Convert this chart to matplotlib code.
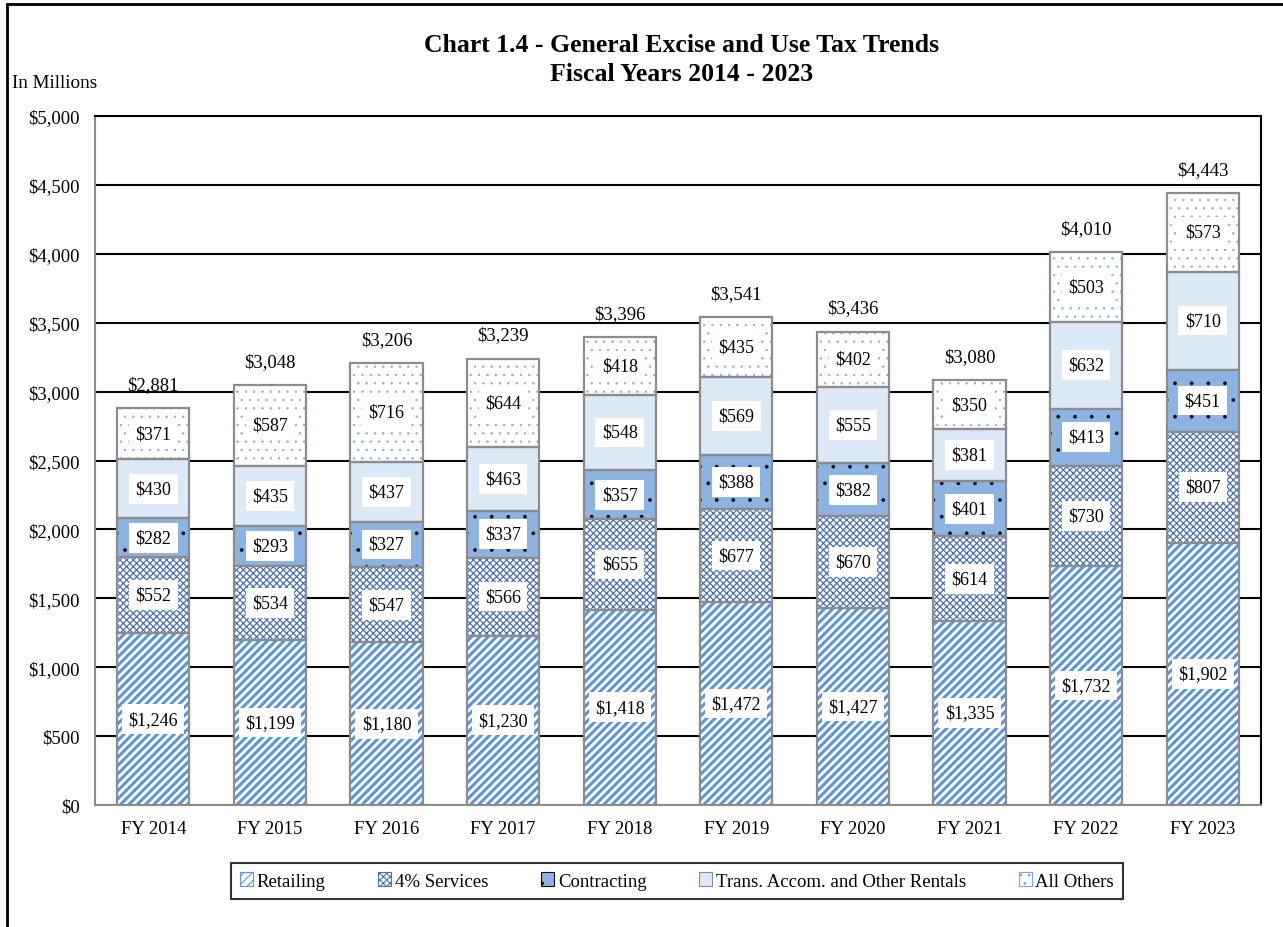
import matplotlib.pyplot as plt
import matplotlib.lines as mlines
import numpy as np

plt.rcParams['font.family'] = ['Liberation Serif', 'DejaVu Serif']

# Data (in millions)
years = ["FY 2014", "FY 2015", "FY 2016", "FY 2017", "FY 2018",
         "FY 2019", "FY 2020", "FY 2021", "FY 2022", "FY 2023"]
retailing = [1246, 1199, 1180, 1230, 1418, 1472, 1427, 1335, 1732, 1902]
services = [552, 534, 547, 566, 655, 677, 670, 614, 730, 807]
contracting = [282, 293, 327, 337, 357, 388, 382, 401, 413, 451]
rentals = [430, 435, 437, 463, 548, 569, 555, 381, 632, 710]
others = [371, 587, 716, 644, 418, 435, 402, 350, 503, 573]
totals = [2881, 3048, 3206, 3239, 3396, 3541, 3436, 3080, 4010, 4443]

# name, values, face, hatch, hatch colour, hatch linewidth
series = [
    ("Retailing", retailing, "white", "////", "#5B95DE", 2.2),
    ("4% Services", services, "white", "xxxxx", "#4A72B8", 0.9),
    ("Contracting", contracting, "#8DB3E2", ".", "#111111", 0.3),
    ("Trans. Accom. and Other Rentals", rentals, "#DCEAF8", None, None, 1.0),
    ("All Others", others, "white", "..", "#79A6E6", 0.4),
]

fig = plt.figure(figsize=(12.83, 9.28), dpi=100)
ax = fig.add_axes([95 / 1283, 1 - 806 / 928, (1261 - 95) / 1283, (806 - 117) / 928])

x = np.arange(len(years))
width = 0.62
bottom = np.zeros(len(years))
handles = []

for name, vals, face, hatch, hcol, hlw in series:
    vals = np.array(vals)
    plt.rcParams['hatch.linewidth'] = hlw
    if hatch:
        ax.bar(x, vals, width, bottom=bottom, color=face, hatch=hatch,
               edgecolor=hcol, linewidth=0, zorder=3)
    else:
        ax.bar(x, vals, width, bottom=bottom, color=face, linewidth=0, zorder=3)
    ax.bar(x, vals, width, bottom=bottom, fill=False, edgecolor="#8c8c8c",
           linewidth=1.6, zorder=4)
    for xi, b, v in zip(x, bottom, vals):
        ax.text(xi, b + v / 2, f"${v:,}", ha="center", va="center", fontsize=13,
                zorder=5, bbox=dict(boxstyle="square,pad=0.35", fc="white", ec="none"))
    handles.append(plt.Rectangle((0, 0), 1, 1, facecolor=face, hatch=hatch,
                                 edgecolor=hcol if hcol else "#8c8c8c", linewidth=0.8))
    bottom = bottom + vals

for xi, t in zip(x, totals):
    ax.annotate(f"${t:,}", (xi, t), xytext=(0, 17), textcoords="offset points",
                ha="center", va="center", fontsize=13.5)

ax.set_xlim(-0.5, len(years) - 0.5)
ax.set_ylim(0, 5000)
ax.set_yticks(np.arange(0, 5001, 500))
ax.set_yticklabels([f"${v:,}" for v in range(0, 5001, 500)], fontsize=13.5)
ax.set_xticks(x)
ax.set_xticklabels(years, fontsize=13.5)
ax.tick_params(length=0, pad=11)
ax.yaxis.grid(True, color="black", linewidth=1.5, zorder=0)
ax.set_axisbelow(True)
for s in ["top", "right"]:
    ax.spines[s].set_color("black")
    ax.spines[s].set_linewidth(1.5)
for s in ["left", "bottom"]:
    ax.spines[s].set_color("#8c8c8c")
    ax.spines[s].set_linewidth(1.5)

fig.text(0.5315, 1 - 45 / 928, "Chart 1.4 - General Excise and Use Tax Trends",
         ha="center", va="center", fontsize=18.5, fontweight="bold")
fig.text(0.5315, 1 - 75 / 928, "Fiscal Years 2014 - 2023",
         ha="center", va="center", fontsize=18.5, fontweight="bold")
fig.text(12 / 1283, 1 - 84 / 928, "In Millions", ha="left", va="center", fontsize=13.8)

plt.rcParams['hatch.linewidth'] = 0.8
leg = fig.legend(handles, [s[0] for s in series], loc="center",
                 bbox_to_anchor=(677 / 1283, 1 - 882 / 928), ncol=5, fontsize=13.5,
                 frameon=True, fancybox=False, edgecolor="black",
                 handlelength=0.7, handleheight=0.7, handletextpad=0.2,
                 columnspacing=2.8, borderpad=0.5)
leg.get_frame().set_linewidth(1.5)

# outer frame
fig.add_artist(mlines.Line2D([7 / 1283, 7 / 1283], [0, 1 - 5 / 928],
                             color="black", linewidth=2, transform=fig.transFigure))
fig.add_artist(mlines.Line2D([7 / 1283, 1], [1 - 5 / 928, 1 - 5 / 928],
                             color="black", linewidth=2, transform=fig.transFigure))

fig.savefig("out.png", dpi=100)
